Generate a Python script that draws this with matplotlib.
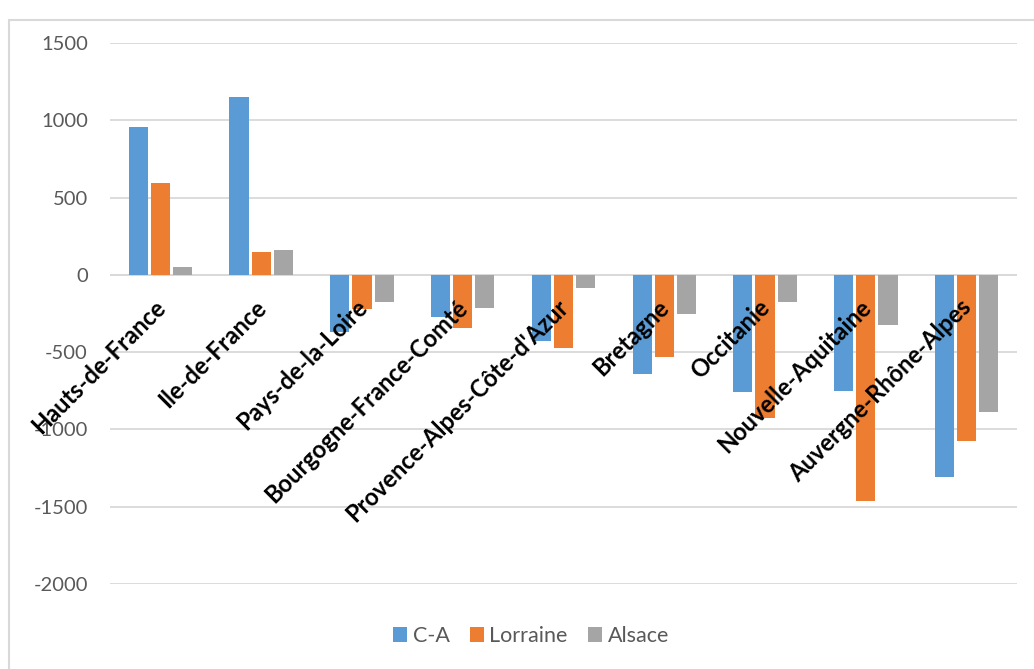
import matplotlib
matplotlib.use("Agg")
import matplotlib.pyplot as plt
import numpy as np
from matplotlib.patches import Rectangle

regions = ["Hauts-de-France", "Ile-de-France", "Pays-de-la-Loire", "Bourgogne-France-Comté",
           "Provence-Alpes-Côte-d'Azur", "Bretagne", "Occitanie", "Nouvelle-Aquitaine",
           "Auvergne-Rhône-Alpes"]
ca = [955, 1148, -367, -270, -425, -643, -758, -752, -1306]
lorraine = [592, 148, -218, -345, -472, -532, -929, -1460, -1075]
alsace = [54, 161, -177, -213, -86, -252, -174, -323, -885]
series_names = ["C-A", "Lorraine", "Alsace"]
colors = ["#5B9BD5", "#ED7D31", "#A5A5A5"]
yticks = [1500, 1000, 500, 0, -500, -1000, -1500, -2000]

plt.rcParams['font.family'] = ['Lato', 'DejaVu Sans']

W, H = 1034, 669
fig = plt.figure(figsize=(W / 100, H / 100), dpi=100)
ax = fig.add_axes([110 / W, 1 - 584 / H, (1017 - 110) / W, (584 - 43) / H])

x = np.arange(len(regions))
bw = 0.19
step = 0.22
for k, (vals, name, c) in enumerate(zip([ca, lorraine, alsace], series_names, colors)):
    ax.bar(x + (k - 1) * step, vals, width=bw, color=c, label=name, zorder=2)

ax.set_xlim(-0.5, len(regions) - 0.5)
ax.set_ylim(-2000, 1500)
ax.set_yticks(yticks)
ax.set_yticklabels([str(v) for v in yticks])
ax.set_xticks([])
ax.tick_params(axis='y', length=0, pad=16, labelsize=14.5, labelcolor="#595959")
ax.grid(axis='y', color="#D9D9D9", linewidth=1.3, zorder=0)
ax.axhline(0, color="#D9D9D9", linewidth=1.3, zorder=1)
for s in ax.spines.values():
    s.set_visible(False)

for i, r in enumerate(regions):
    ax.annotate(r, xy=(i, 0), xytext=(-5, -15), textcoords='offset points',
                rotation=45, rotation_mode='anchor', ha='right', va='top',
                fontsize=17, fontweight='bold', color='black', zorder=3)

leg = fig.legend(loc='center', bbox_to_anchor=(531 / W, 1 - 636 / H), ncol=3,
                 frameon=False, fontsize=15.5, handlelength=0.65, handleheight=0.65,
                 handletextpad=0.25, columnspacing=0.95)
for t in leg.get_texts():
    t.set_color("#595959")

fig.patches.append(Rectangle((9 / W, -0.01), 1.02, 1 - 20 / H + 0.01, transform=fig.transFigure,
                             fill=False, edgecolor="#D9D9D9", linewidth=1.5))

fig.savefig("out.png", dpi=100, facecolor="white")
